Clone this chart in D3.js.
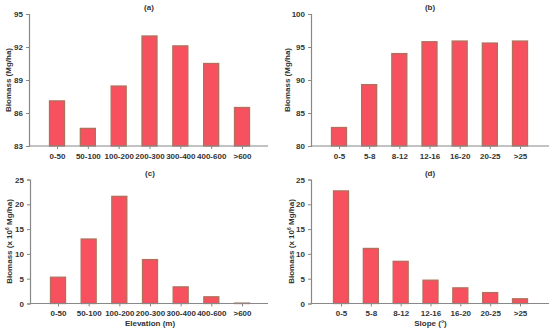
<!DOCTYPE html>
<html>
<head>
<meta charset="utf-8">
<script src="https://cdn.jsdelivr.net/npm/d3@7"></script>
<style>
  body { margin: 0; background: #fff; }
  svg { display: block; }
  text { font-family: "Liberation Sans", Arial, sans-serif; font-weight: bold; fill: #333; }
</style>
</head>
<body>
<svg id="chart" width="550" height="334"></svg>
<script>
// categories
const elevationCats = ["0-50", "50-100", "100-200", "200-300", "300-400", "400-600", ">600"];
const slopeCats = ["0-5", "5-8", "8-12", "12-16", "16-20", "20-25", ">25"];

// mean biomass density (Mg/ha)
const elevDensity = [87.1, 84.6, 88.45, 93.0, 92.1, 90.5, 86.5];
const slopeDensity = [82.8, 89.3, 94.0, 95.8, 95.9, 95.6, 95.9];

// total biomass (x 10^6 Mg/ha)
const elevTotal = [5.3, 13.0, 21.6, 8.85, 3.35, 1.35, 0.08];
const slopeTotal = [22.7, 11.1, 8.5, 4.7, 3.15, 2.2, 0.95];

// y ticks
const ticksA = [83, 86, 89, 92, 95];
const ticksB = [80, 85, 90, 95, 100];
const ticksCD = [0, 5, 10, 15, 20, 25];

const svg = d3.select("#chart");

// one panel: axis left, category range, value range
function panel(opts) {
    let g = svg.append("g");

    let x = d3.scalePoint()
        .domain(opts.cats)
        .range([opts.firstX, opts.lastX]);

    let y = d3.scaleLinear()
        .domain(opts.yDomain)
        .range([opts.bottom, opts.top]);

    let barW = 15;

    // bars
    g.selectAll("rect.bar")
        .data(opts.values)
        .enter()
        .append("rect")
        .attr("class", "bar")
        .attr("x", (d, i) => x(opts.cats[i]) - barW / 2)
        .attr("y", d => y(d))
        .attr("width", barW)
        .attr("height", d => y(opts.yDomain[0]) - y(d))
        .style("fill", "#f7515f")
        .style("stroke", "#b0705c")
        .style("stroke-width", 1.3);

    // y axis
    let yAxis = g.append("g")
        .attr("transform", "translate(" + opts.axisX + ",0)")
        .call(d3.axisLeft(y).tickValues(opts.ticks).tickSize(3).tickPadding(3));
    yAxis.selectAll("text").style("font-size", "8px");
    yAxis.select(".domain").attr("stroke", "#888").attr("stroke-width", 1.2);
    yAxis.selectAll(".tick line").attr("stroke", "#888");

    // x axis line
    g.append("line")
        .attr("x1", opts.axisX).attr("x2", opts.axisEnd)
        .attr("y1", opts.bottom).attr("y2", opts.bottom)
        .attr("stroke", "#888").attr("stroke-width", 1.2);

    let xAxis = g.append("g")
        .attr("transform", "translate(0," + opts.bottom + ")")
        .call(d3.axisBottom(x).tickSize(3).tickPadding(4));
    xAxis.select(".domain").remove();
    xAxis.selectAll(".tick line").attr("stroke", "#888");
    xAxis.selectAll("text").style("font-size", "8px");

    // panel title
    g.append("text")
        .attr("x", opts.titleX)
        .attr("y", opts.top - 4)
        .attr("text-anchor", "middle")
        .style("font-size", "8px")
        .text(opts.title);

    // y label
    let yl = g.append("text")
        .attr("transform", "translate(" + opts.ylabelX + "," + ((opts.top + opts.bottom) / 2) + ") rotate(-90)")
        .attr("text-anchor", "middle")
        .style("font-size", "8px");
    if (opts.sup) {
        yl.append("tspan").text("Biomass (x 10");
        yl.append("tspan").attr("dy", -3).style("font-size", "5px").text("6");
        yl.append("tspan").attr("dy", 3).text(" Mg/ha)");
    } else {
        yl.text("Biomass (Mg/ha)");
    }

    // x label
    if (opts.xlabel) {
        g.append("text")
            .attr("x", (opts.firstX + opts.lastX) / 2)
            .attr("y", opts.bottom + 22)
            .attr("text-anchor", "middle")
            .style("font-size", "8px")
            .text(opts.xlabel);
    }
}

panel({cats: elevationCats, values: elevDensity, yDomain: [83, 95], ticks: ticksA,
    axisX: 29, axisEnd: 268, firstX: 57, lastX: 242, top: 14, bottom: 146,
    title: "(a)", titleX: 149, ylabelX: 11});

panel({cats: slopeCats, values: slopeDensity, yDomain: [80, 100], ticks: ticksB,
    axisX: 311, axisEnd: 549, firstX: 339, lastX: 520, top: 14, bottom: 146,
    title: "(b)", titleX: 430, ylabelX: 290});

panel({cats: elevationCats, values: elevTotal, yDomain: [0, 25], ticks: ticksCD,
    axisX: 30, axisEnd: 268, firstX: 58, lastX: 242, top: 179.5, bottom: 303.5,
    title: "(c)", titleX: 150, ylabelX: 12, sup: true, xlabel: "Elevation (m)"});

panel({cats: slopeCats, values: slopeTotal, yDomain: [0, 25], ticks: ticksCD,
    axisX: 311, axisEnd: 549, firstX: 341, lastX: 520, top: 179.5, bottom: 303.5,
    title: "(d)", titleX: 430, ylabelX: 294, sup: true, xlabel: "Slope (°)"});
</script>
</body>
</html>
